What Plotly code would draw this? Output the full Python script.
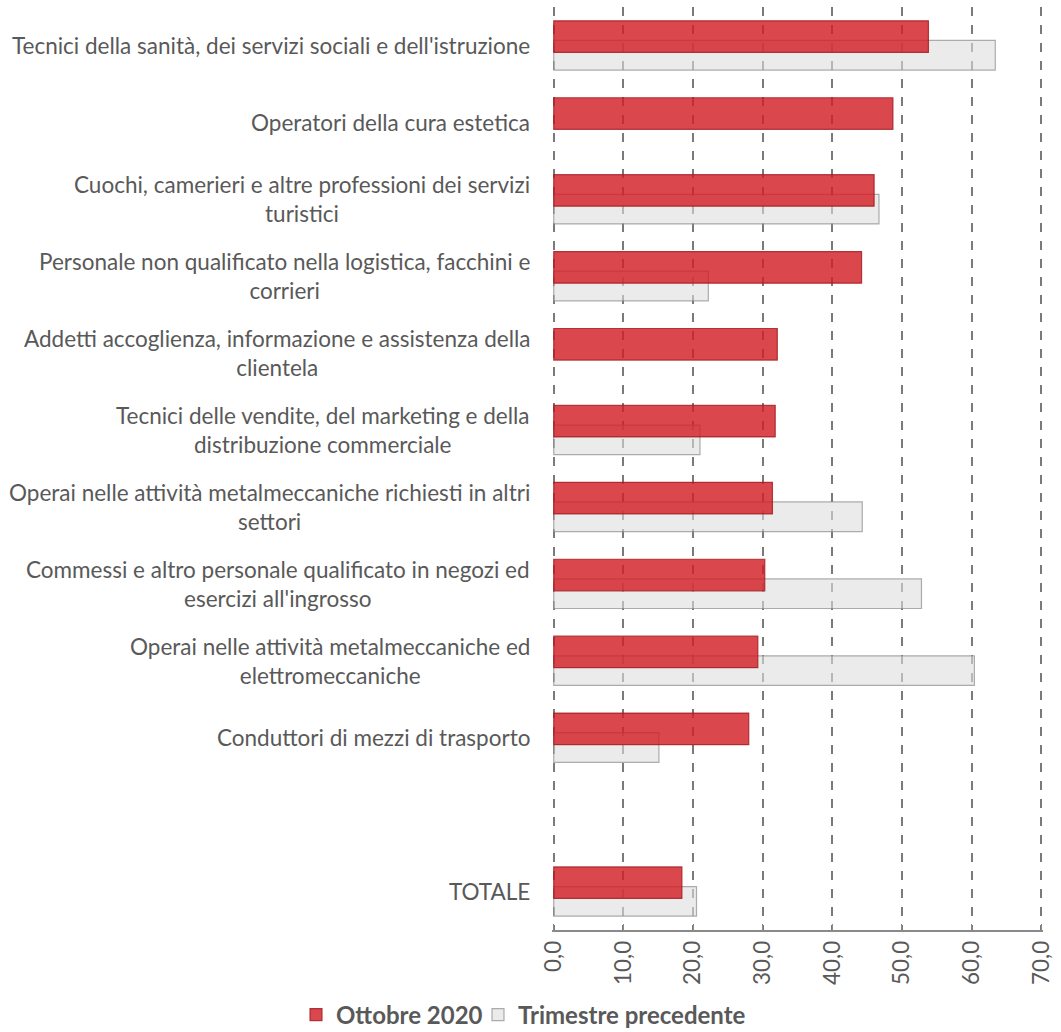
import plotly.graph_objects as go

categories = [
    "Tecnici della sanità, dei servizi sociali e dell'istruzione",
    "Operatori della cura estetica",
    "Cuochi, camerieri e altre professioni dei servizi<br>turistici",
    "Personale non qualificato nella logistica, facchini e<br>corrieri",
    "Addetti accoglienza, informazione e assistenza della<br>clientela",
    "Tecnici delle vendite, del marketing e della<br>distribuzione commerciale",
    "Operai nelle attività metalmeccaniche richiesti in altri<br>settori",
    "Commessi e altro personale qualificato in negozi ed<br>esercizi all'ingrosso",
    "Operai nelle attività metalmeccaniche ed<br>elettromeccaniche",
    "Conduttori di mezzi di trasporto",
    " ",
    "TOTALE",
]
ottobre_2020 = [53.8, 48.7, 46.0, 44.2, 32.1, 31.8, 31.4, 30.3, 29.3, 28.0, None, 18.4]
trimestre_precedente = [63.4, None, 46.7, 22.2, None, 21.0, 44.3, 52.8, 60.4, 15.1, None, 20.5]
tick_values = [0, 10, 20, 30, 40, 50, 60, 70]
tick_labels = ["0,0", "10,0", "20,0", "30,0", "40,0", "50,0", "60,0", "70,0"]

FONT = "Lato"
TXT = "#595959"
FS = 22.5
W, H = 1061, 1032

fig = go.Figure()
fig.add_trace(go.Bar(
    y=categories, x=trimestre_precedente, orientation="h",
    name="Trimestre precedente", legend="legend2",
    offset=-0.065, width=0.385,
    marker=dict(color="rgba(222,222,222,0.6)",
                line=dict(color="rgba(140,140,140,0.7)", width=1.2)),
))
fig.add_trace(go.Bar(
    y=categories, x=ottobre_2020, orientation="h",
    name="Ottobre 2020", legend="legend",
    offset=-0.32, width=0.41,
    marker=dict(color="rgba(210,30,38,0.82)",
                line=dict(color="rgba(160,25,30,0.8)", width=1.2)),
))

for c in categories:
    if c.strip():
        fig.add_annotation(
            x=0, xref="paper", y=c, yref="y", text=c, showarrow=False,
            xanchor="right", yanchor="middle", align="center", xshift=-20,
            font=dict(family=FONT, size=FS, color=TXT),
        )

legend_font = dict(family=FONT, size=24, color=TXT, weight="bold")
fig.update_layout(
    width=W, height=H,
    margin=dict(l=552, r=16, t=7, b=102),
    barmode="overlay",
    plot_bgcolor="white", paper_bgcolor="white",
    font=dict(family=FONT, size=FS, color=TXT),
    showlegend=True,
    legend=dict(orientation="h", xref="container", yref="container",
                x=296 / W, y=1 - 1015 / H, xanchor="left", yanchor="middle",
                font=legend_font, itemwidth=30, bgcolor="rgba(0,0,0,0)"),
    legend2=dict(orientation="h", xref="container", yref="container",
                 x=478 / W, y=1 - 1015 / H, xanchor="left", yanchor="middle",
                 font=legend_font, itemwidth=30, bgcolor="rgba(0,0,0,0)"),
    xaxis=dict(range=[-0.25, 70.25], tickvals=tick_values, ticktext=tick_labels,
               tickangle=-90, showgrid=True, gridcolor="#7a7a7a", griddash="dash",
               gridwidth=1.7, zeroline=False, showline=True, linecolor="#8a8a8a",
               linewidth=1.6, ticks="inside", ticklen=6, tickcolor="#8a8a8a",
               tickfont=dict(family=FONT, size=FS, color=TXT)),
    yaxis=dict(autorange="reversed", showticklabels=False, showgrid=False,
               zeroline=False, showline=False, ticks=""),
)

fig.write_html(
    "out.html",
    config={"displayModeBar": False},
    post_script="document.body.style.margin='0';document.body.style.overflow='hidden';",
)
